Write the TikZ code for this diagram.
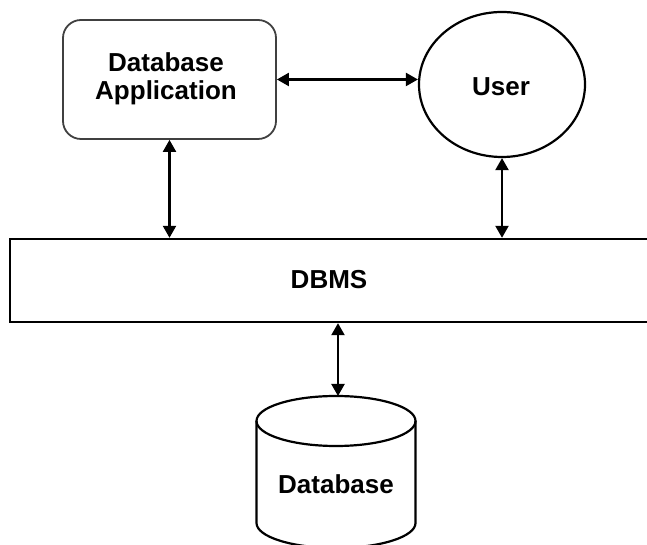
\documentclass[tikz,border=0pt]{standalone}
\usepackage{fontspec}
\setmainfont{Liberation Sans}
\usetikzlibrary{arrows.meta,shapes.geometric}
\tikzset{
  lbl/.style={font=\bfseries\fontsize{26}{28}\selectfont, align=center},
  appbox/.style={draw=black!75, line width=1.8pt, rounded corners=18pt, minimum width=213pt, minimum height=119pt, inner sep=0pt},
  userell/.style={draw, ellipse, line width=2.2pt, minimum width=166pt, minimum height=145pt, inner sep=0pt},
  dbmsbox/.style={draw, line width=2.4pt, minimum width=660pt, minimum height=83pt, inner sep=0pt},
  arr/.style={line width=2.2pt, {Triangle[length=12pt,width=13pt]}-{Triangle[length=12pt,width=13pt]}},
  cyl/.style={line width=2.2pt}
}
\begin{document}
\begin{tikzpicture}[x=1pt,y=1pt]
\useasboundingbox (0,0) rectangle (647,545);
\node[appbox] (app) at (169.5,465.5) {};
\node[lbl] (apptext) at (166,466) {Database\\Application};
\node[userell] (user) at (502,460.5) {};
\node[lbl] (usertext) at (501,458) {User};
\node[dbmsbox] (dbms) at (340,264.5) {};
\node[lbl] (dbmstext) at (329,265) {DBMS};
% cylinder
\draw[cyl] (336,124) ellipse [x radius=79.5, y radius=25];
\draw[cyl] (256.5,124) -- (256.5,22) arc[start angle=180,end angle=360,x radius=79.5,y radius=25] -- (415.5,124);
\coordinate (dbtop) at (338,149);
\node[lbl] (dbtext) at (336,61) {Database};
% connectors
\draw[arr] (app.east) -- (app.east -| user.west);
\draw[arr] (app.south) -- (app.south |- dbms.north);
\draw[arr] (user.south) -- (user.south |- dbms.north);
\draw[arr] (dbms.south -| dbtop) -- (dbtop);
\end{tikzpicture}
\end{document}
